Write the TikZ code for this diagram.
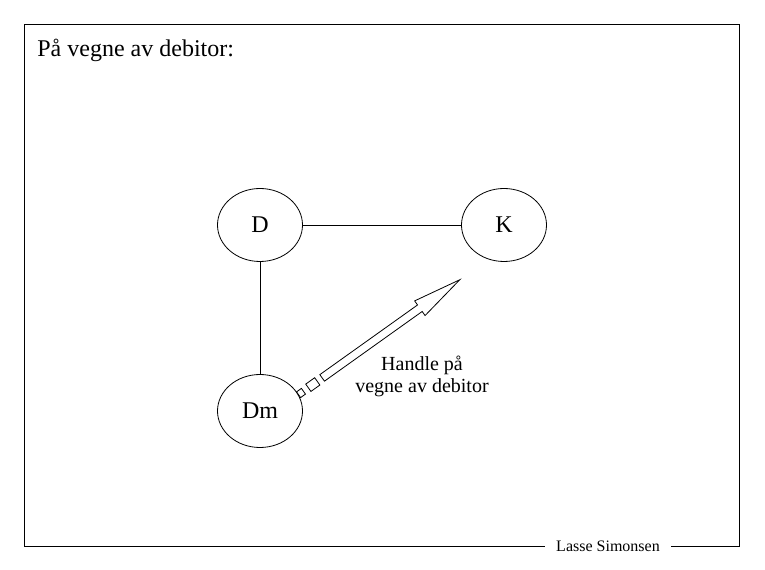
\documentclass[tikz,border=0pt]{standalone}
\usepackage{fontspec}
\setmainfont{Liberation Serif}
\usetikzlibrary{shapes.geometric,positioning,calc}

\begin{document}
\begin{tikzpicture}[
    x = 0.75pt, y = -0.75pt,
    line width = 0.6pt,
    party/.style = {ellipse, draw, minimum width=63.75pt, minimum height=54.75pt, inner sep=0pt, font=\fontsize{18}{20}\selectfont},
    label/.style = {align=center, font=\fontsize{15}{16.5}\selectfont}
]
    \useasboundingbox (0,0) rectangle (765,570);

    % Frame and signature
    \draw (24,24) rectangle (739,546);
    \node[fill=white, inner xsep=8.6pt, inner ysep=1pt, font=\fontsize{12}{14}\selectfont] (sign) at (608,546) {Lasse Simonsen};

    % Title
    \node[anchor=base west, inner sep=0pt, font=\fontsize{18}{20}\selectfont] (title) at (37,57) {På vegne av debitor:};

    % Parties
    \node[party] (D) at (260,225) {D};
    \node[party] (K) at (504,225) {K};
    \node[party] (Dm) at (260,411) {Dm};

    % Relations
    \draw (D) -- (K);
    \draw (D) -- (Dm);

    % Acting arrow
    \begin{scope}[shift={(301,393)}, rotate=35.5]
        \draw (-3,-3.5) rectangle (3,3.5);
        \draw (9,-4.5) rectangle (20,4.5);
        \draw (26,-4) -- (146,-4) -- (146,-9) -- (195,0) -- (146,9) -- (146,4) -- (26,4) -- cycle;
    \end{scope}
    \node[label] (act) at (422,376) {Handle på\\vegne av debitor};

\end{tikzpicture}
\end{document}
